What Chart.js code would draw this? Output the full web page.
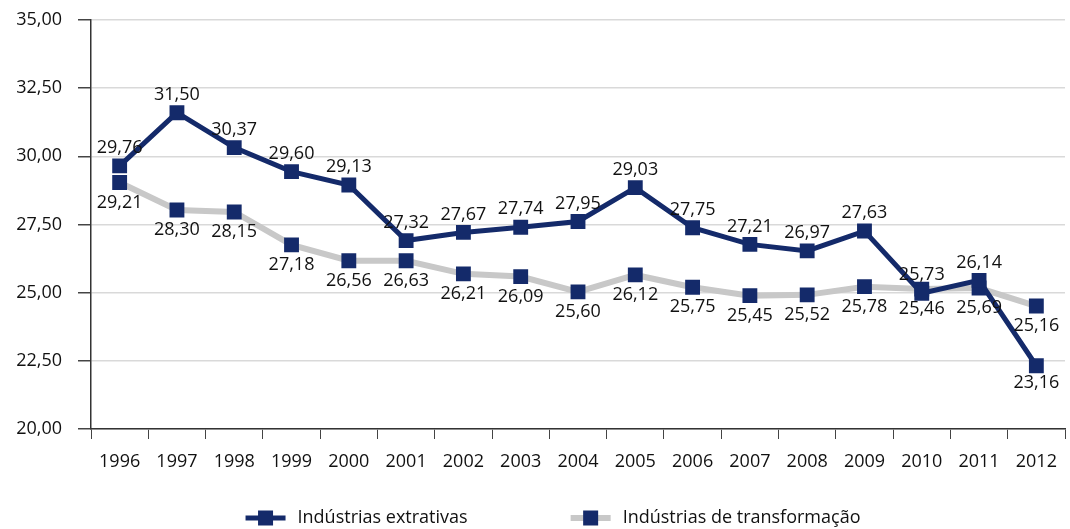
<!DOCTYPE html>
<html lang="pt-BR">
<head>
<meta charset="utf-8">
<script src="https://cdn.jsdelivr.net/npm/chart.js@4.4.1/dist/chart.umd.min.js"></script>
<style>
  body { margin: 0; background: #fff; }
  #grafico { display: block; }
</style>
</head>
<body>
<canvas id="grafico" width="1070" height="529"></canvas>
<script>
// dados
const anos = ["1996","1997","1998","1999","2000","2001","2002","2003","2004","2005","2006","2007","2008","2009","2010","2011","2012"];
const extrativas = [29.65, 31.60, 30.32, 29.44, 28.95, 26.91, 27.21, 27.40, 27.61, 28.85, 27.38, 26.77, 26.53, 27.26, 24.98, 25.45, 22.32];
const transformacao = [29.04, 28.03, 27.96, 26.75, 26.17, 26.17, 25.69, 25.59, 25.03, 25.65, 25.20, 24.89, 24.92, 25.22, 25.13, 25.17, 24.51];
const rotulosExtrativas = ["29,76","31,50","30,37","29,60","29,13","27,32","27,67","27,74","27,95","29,03","27,75","27,21","26,97","27,63","25,73","26,14","23,16"];
const rotulosTransformacao = ["29,21","28,30","28,15","27,18","26,56","26,63","26,21","26,09","25,60","26,12","25,75","25,45","25,52","25,78","25,46","25,69","25,16"];
const series = ["Indústrias extrativas", "Indústrias de transformação"];

const AZUL = "#142a6a";
const CINZA = "#c8c8c8";
const FONTE = '18px "Open Sans", sans-serif';

Chart.defaults.font.family = '"Open Sans", sans-serif';
Chart.defaults.font.size = 18;
Chart.defaults.color = "#111";

// rótulos de valor (acima da linha azul, abaixo da cinza)
const rotulosPlugin = {
  id: "rotulos",
  afterDatasetsDraw(chart){
    const ctx = chart.ctx;
    ctx.save();
    ctx.font = FONTE;
    ctx.fillStyle = "#111";
    ctx.textAlign = "center";
    ctx.textBaseline = "middle";
    chart.getDatasetMeta(0).data.forEach((p, i) => {
      const abaixo = i === anos.length - 1;
      ctx.fillText(rotulosExtrativas[i], p.x, p.y + (abaixo ? 17 : -18));
    });
    chart.getDatasetMeta(1).data.forEach((p, i) => {
      ctx.fillText(rotulosTransformacao[i], p.x, p.y + 20);
    });
    ctx.restore();
  }
};

// legenda com linha + quadrado
const legendaPlugin = {
  id: "legenda",
  afterDraw(chart){
    const ctx = chart.ctx;
    ctx.save();
    ctx.font = FONTE;
    const y = chart.height - 11;
    const larguraMarca = 40, gapTexto = 12, gapItens = 103;
    const w0 = ctx.measureText(series[0]).width;
    const w1 = ctx.measureText(series[1]).width;
    const total = larguraMarca*2 + gapTexto*2 + w0 + w1 + gapItens;
    let x = chart.width/2 - total/2 + 18;
    const cores = [AZUL, CINZA];
    series.forEach((nome, i) => {
      ctx.strokeStyle = cores[i];
      ctx.lineWidth = i === 0 ? 5 : 6;
      ctx.beginPath();
      ctx.moveTo(x, y);
      ctx.lineTo(x + larguraMarca, y);
      ctx.stroke();
      ctx.fillStyle = AZUL;
      ctx.fillRect(x + larguraMarca/2 - 7.5, y - 7.5, 15, 15);
      ctx.fillStyle = "#111";
      ctx.textAlign = "left";
      ctx.textBaseline = "middle";
      ctx.fillText(nome, x + larguraMarca + gapTexto, y);
      x += larguraMarca + gapTexto + (i === 0 ? w0 : w1) + gapItens;
    });
    ctx.restore();
  }
};

new Chart(document.getElementById("grafico"), {
  type: "line",
  data: {
    labels: anos,
    datasets: [
      {
        label: series[0],
        data: extrativas,
        borderColor: AZUL,
        borderWidth: 5,
        pointStyle: "rect",
        pointRadius: 10.5,
        pointBackgroundColor: AZUL,
        pointBorderWidth: 0,
        tension: 0
      },
      {
        label: series[1],
        data: transformacao,
        borderColor: CINZA,
        borderWidth: 6,
        pointStyle: "rect",
        pointRadius: 10.5,
        pointBackgroundColor: AZUL,
        pointBorderWidth: 0,
        tension: 0
      }
    ]
  },
  options: {
    responsive: false,
    animation: false,
    layout: { autoPadding: false, padding: { left: 0, right: 5, top: 20, bottom: 55 } },
    plugins: {
      legend: { display: false },
      tooltip: { enabled: false }
    },
    scales: {
      x: {
        offset: true,
        afterFit: s => { s.height = 45; s.paddingLeft = 0; s.paddingRight = 0; },
        border: { color: "#333", width: 1.5 },
        grid: {
          offset: true,
          drawOnChartArea: true,
          color: c => c.index === anos.length ? "#d9d9d9" : "rgba(0,0,0,0)",
          tickColor: "#444",
          tickLength: 10
        },
        ticks: { padding: 12, maxRotation: 0, autoSkip: false }
      },
      y: {
        min: 20,
        max: 35,
        afterFit: s => { s.width = 91; s.paddingTop = 0; s.paddingBottom = 0; },
        border: { color: "#333", width: 1.5 },
        grid: { color: "#d9d9d9", lineWidth: 1.5, tickColor: "#444", tickLength: 13 },
        ticks: {
          stepSize: 2.5,
          padding: 16,
          callback: v => v.toFixed(2).replace(".", ",")
        }
      }
    }
  },
  plugins: [rotulosPlugin, legendaPlugin]
});
</script>
</body>
</html>
